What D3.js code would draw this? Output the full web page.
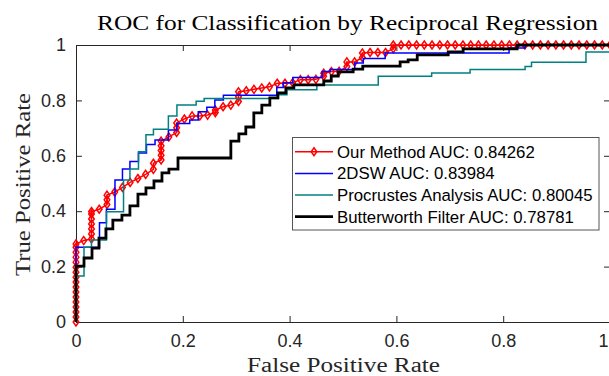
<!DOCTYPE html>
<html><head><meta charset="utf-8">
<script src="https://cdn.jsdelivr.net/npm/d3@7"></script>
<style>html,body{margin:0;padding:0;background:#fff}svg{display:block}</style>
</head><body>
<svg id="chart" width="609" height="376"></svg>
<script>
// ---------- data ----------
const titleText = "ROC for Classification by Reciprocal Regression";
const xLabelText = "False Positive Rate";
const yLabelText = "True Positive Rate";
const xTicks = [0, 0.2, 0.4, 0.6, 0.8, 1];
const xTickLabels = ["0", "0.2", "0.4", "0.6", "0.8", "1"];
const yTicks = [0, 0.2, 0.4, 0.6, 0.8, 1];
const yTickLabels = ["0", "0.2", "0.4", "0.6", "0.8", "1"];
const seriesNames = [
  "Our Method AUC: 0.84262",
  "2DSW AUC: 0.83984",
  "Procrustes Analysis AUC: 0.80045",
  "Butterworth Filter AUC: 0.78781"
];
const seriesColors = ["#ff0000", "#0000ff", "#008080", "#000000"];

// Our Method: every ROC point (FPR, TPR), drawn with markers
const ourMethodROC = [
  [0,0],[0,.018],[0,.036],[0,.054],[0,.072],[0,.09],[0,.108],[0,.126],[0,.144],[0,.162],[0,.18],[0,.198],[0,.216],[0,.234],[0,.252],[0,.27],[0,.282],
  [.0145,.294],
  [.029,.30],[.029,.318],[.029,.336],[.029,.354],[.029,.372],[.029,.39],[.029,.399],
  [.0435,.407],
  [.058,.424],[.058,.441],[.058,.458],
  [.0725,.469],[.087,.486],[.1014,.504],[.1159,.518],[.1304,.533],
  [.1449,.551],[.1449,.573],
  [.1594,.585],[.1594,.602],[.1594,.619],[.1594,.636],[.1594,.653],
  [.1739,.668],
  [.1884,.684],[.1884,.701],[.1884,.718],
  [.2029,.733],[.2174,.744],[.2319,.744],[.2464,.747],
  [.2609,.756],[.2609,.765],
  [.2754,.777],[.2899,.783],
  [.3043,.796],[.3043,.813],[.3043,.831],
  [.3188,.835],[.3333,.840],[.3478,.845],[.3623,.849],[.3768,.862],[.3913,.862],[.4058,.864],
  [.4203,.875],[.4348,.875],[.4493,.876],
  [.4638,.887],[.4638,.898],
  [.4783,.904],[.4928,.905],
  [.5072,.922],[.5072,.939],
  [.5217,.939],
  [.5362,.955],[.5362,.971],
  [.5507,.973],[.5652,.973],[.5797,.973],
  [.5942,.987],[.5942,1],
  [.6087,1],[.6232,1],[.6377,1],[.6522,1],[.6667,1],[.6812,1],[.6957,1],[.7101,1],[.7246,1],[.7391,1],
  [.7536,1],[.7681,1],[.7826,1],[.7971,1],[.8116,1],[.8261,1],[.8406,1],[.8551,1],[.8696,1],[.8841,1],
  [.8986,1],[.9130,1],[.9275,1],[.9420,1],[.9565,1],[.9710,1],[.9855,1],[1,1]
];

// Step curves: [FPR where TPR jumps, new TPR]
const dswROC = [
  [0,0],[0,.27],[.044,.358],[.057,.407],[.073,.513],[.087,.552],[.101,.579],[.117,.610],[.132,.641],
  [.148,.657],[.173,.693],[.189,.717],[.213,.729],[.229,.759],[.245,.775],[.260,.801],[.276,.819],
  [.376,.847],[.388,.864],[.406,.883],[.461,.904],[.476,.912],[.522,.935],[.538,.951],[.579,.971],
  [.811,.989],[.841,1],[1,1]
];
const procrustesROC = [
  [0,0],[0,.166],[.015,.27],[.029,.296],[.057,.398],[.089,.513],[.101,.552],[.117,.615],[.131,.676],
  [.145,.696],[.173,.744],[.189,.783],[.225,.797],[.240,.807],[.379,.820],[.395,.838],[.451,.856],
  [.566,.887],[.666,.899],[.738,.912],[.841,.922],[.853,.938],[.955,.975],[1,.975]
];
const butterworthROC = [
  [0,0],[0,.202],[.015,.231],[.030,.267],[.043,.303],[.056,.336],[.069,.368],[.086,.386],[.101,.419],
  [.116,.462],[.131,.484],[.146,.509],[.161,.538],[.174,.552],[.191,.592],[.290,.653],[.305,.679],
  [.318,.704],[.333,.755],[.348,.783],[.363,.809],[.378,.827],[.393,.845],[.408,.856],[.464,.870],
  [.478,.888],[.491,.903],[.519,.913],[.537,.924],[.607,.939],[.622,.946],[.639,.964],[.697,.975],
  [.725,.986],[.826,1],[1,1]
];

// ---------- drawing ----------
const svg = d3.select("#chart");
const W = 609;
const L = 76, R = 610, T = 45, B = 322;
const x = d3.scaleLinear().domain([0, 1]).range([L, R]);
const y = d3.scaleLinear().domain([0, 1]).range([B, T]);
const axisColor = "#262626";
const sans = "'Liberation Sans', Arial, Helvetica, sans-serif";
const serif = "'Liberation Serif', 'Times New Roman', serif";

function styleAxis(g) {
  g.select(".domain").attr("stroke", axisColor).attr("stroke-width", 1);
  g.selectAll(".tick line").attr("stroke", axisColor).attr("stroke-width", 1);
  g.selectAll(".tick text").attr("fill", axisColor).style("font-family", sans).style("font-size", "18px");
}

const xAxisG = svg.append("g").attr("transform", `translate(0,${B})`)
  .call(d3.axisBottom(x).tickValues(xTicks).tickFormat((d, i) => xTickLabels[i]).tickSize(-6).tickSizeOuter(0).tickPadding(12))
  .call(styleAxis);
// keep the last label (at the clipped right edge) inside the window
xAxisG.selectAll(".tick text").each(function (d) {
  const bb = this.getBBox();
  const right = x(d) + bb.width / 2;
  if (right > W - 1) d3.select(this).attr("text-anchor", "end").attr("x", (W - 1) - x(d));
});
svg.append("g").attr("transform", `translate(0,${T})`)
  .call(d3.axisTop(x).tickValues(xTicks).tickFormat("").tickSize(-6).tickSizeOuter(0))
  .call(styleAxis);
svg.append("g").attr("transform", `translate(${L},0)`)
  .call(d3.axisLeft(y).tickValues(yTicks).tickFormat((d, i) => yTickLabels[i]).tickSize(-6).tickSizeOuter(0).tickPadding(10))
  .call(styleAxis);
svg.append("g").attr("transform", `translate(${R},0)`)
  .call(d3.axisRight(y).tickValues(yTicks).tickFormat("").tickSize(-6).tickSizeOuter(0))
  .call(styleAxis);

const stepLine = d3.line().x(d => x(d[0])).y(d => y(d[1])).curve(d3.curveStepAfter);
const plainLine = d3.line().x(d => x(d[0])).y(d => y(d[1]));

function diamond(cx, cy) {
  const hw = 2.8, hh = 4.0;
  return `M${cx},${cy - hh}L${cx + hw},${cy}L${cx},${cy + hh}L${cx - hw},${cy}Z`;
}

const plot = svg.append("g");
// Our method (red, markers)
plot.append("path").datum(ourMethodROC).attr("d", plainLine)
  .attr("fill", "none").attr("stroke", seriesColors[0]).attr("stroke-width", 1.5);
plot.append("g").selectAll("path").data(ourMethodROC).join("path")
  .attr("d", d => diamond(x(d[0]), y(d[1])))
  .attr("fill", "none").attr("stroke", seriesColors[0]).attr("stroke-width", 1.5);
// 2DSW
plot.append("path").datum(dswROC).attr("d", stepLine)
  .attr("fill", "none").attr("stroke", seriesColors[1]).attr("stroke-width", 1.5);
// Procrustes
plot.append("path").datum(procrustesROC).attr("d", stepLine)
  .attr("fill", "none").attr("stroke", seriesColors[2]).attr("stroke-width", 1.5);
// Butterworth
plot.append("path").datum(butterworthROC).attr("d", stepLine)
  .attr("fill", "none").attr("stroke", seriesColors[3]).attr("stroke-width", 2.8);

// Legend
const lg = svg.append("g");
lg.append("rect").attr("x", 292.5).attr("y", 137.5).attr("width", 306.5).attr("height", 92.5)
  .attr("fill", "#fff").attr("stroke", "#555").attr("stroke-width", 1);
seriesNames.forEach((name, i) => {
  const cy = 151.8 + i * 21.6;
  lg.append("line").attr("x1", 295).attr("x2", 333).attr("y1", cy).attr("y2", cy)
    .attr("stroke", seriesColors[i]).attr("stroke-width", i === 3 ? 2.8 : 1.5);
  if (i === 0) lg.append("path").attr("d", diamond(314, cy)).attr("fill", "none")
    .attr("stroke", seriesColors[0]).attr("stroke-width", 1.5);
  lg.append("text").attr("x", 337).attr("y", cy + 6).text(name)
    .style("font-family", sans).style("font-size", "16.8px").attr("fill", "#000");
});

// Title and labels
svg.append("text").attr("x", 347.5).attr("y", 30).attr("text-anchor", "middle")
  .attr("textLength", 501).attr("lengthAdjust", "spacingAndGlyphs")
  .style("font-family", serif).style("font-size", "20.5px").attr("fill", "#000").text(titleText);
svg.append("text").attr("x", 343.5).attr("y", 372).attr("text-anchor", "middle")
  .attr("textLength", 193).attr("lengthAdjust", "spacingAndGlyphs")
  .style("font-family", serif).style("font-size", "20.5px").attr("fill", "#262626").text(xLabelText);
svg.append("text").attr("transform", "translate(30,184.5) rotate(-90)").attr("text-anchor", "middle")
  .attr("textLength", 183).attr("lengthAdjust", "spacingAndGlyphs")
  .style("font-family", serif).style("font-size", "20.5px").attr("fill", "#262626").text(yLabelText);
</script>
</body></html>
